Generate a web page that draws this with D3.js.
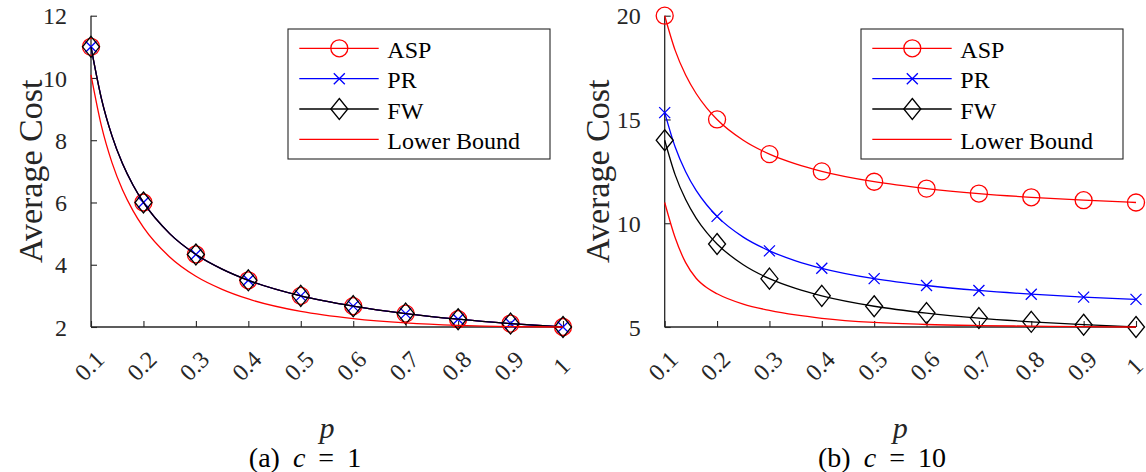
<!DOCTYPE html>
<html>
<head>
<meta charset="utf-8">
<script src="https://cdn.jsdelivr.net/npm/d3@7"></script>
<style>
  html, body { margin: 0; padding: 0; background: #fff; }
  svg text { font-family: "Liberation Serif", "Times New Roman", Times, serif; }
</style>
</head>
<body>
<svg id="chart" width="1146" height="472"></svg>
<script>
// Sampling grid along p; markers sit on the multiples of 0.1
const pGrid = [0.1, 0.12, 0.14, 0.16, 0.18, 0.2, 0.25, 0.3, 0.35, 0.4, 0.5, 0.6, 0.7, 0.8, 0.9, 1];
const pTicks = [0.1, 0.2, 0.3, 0.4, 0.5, 0.6, 0.7, 0.8, 0.9, 1];
const pTickLabels = ["0.1", "0.2", "0.3", "0.4", "0.5", "0.6", "0.7", "0.8", "0.9", "1"];

// (a) c = 1
const aspC1 = [11, 9.33, 8.14, 7.25, 6.56, 6, 5, 4.33, 3.86, 3.5, 3, 2.67, 2.43, 2.25, 2.11, 2];
const prC1  = [11, 9.33, 8.14, 7.25, 6.56, 6, 5, 4.33, 3.86, 3.5, 3, 2.67, 2.43, 2.25, 2.11, 2];
const fwC1  = [11, 9.33, 8.14, 7.25, 6.56, 6, 5, 4.33, 3.86, 3.5, 3, 2.67, 2.43, 2.25, 2.11, 2];
const lbC1  = [10.1, 8.45, 7.28, 6.41, 5.74, 5.2, 4.25, 3.63, 3.21, 2.9, 2.5, 2.27, 2.13, 2.05, 2.01, 2];
const yTicksC1 = [2, 4, 6, 8, 10, 12];

// (b) c = 10
const aspC10 = [20, 18.33, 17.14, 16.25, 15.56, 15, 14, 13.33, 12.86, 12.5, 12, 11.67, 11.43, 11.25, 11.11, 11];
const prC10  = [15.33, 13.67, 12.48, 11.58, 10.89, 10.33, 9.33, 8.67, 8.19, 7.83, 7.33, 7.0, 6.76, 6.58, 6.44, 6.33];
const fwC10  = [14, 12.33, 11.14, 10.25, 9.56, 9, 8, 7.33, 6.86, 6.5, 6, 5.67, 5.43, 5.25, 5.11, 5];
const lbC10  = [11.0, 9.3, 8.1, 7.35, 6.9, 6.6, 6.1, 5.8, 5.58, 5.42, 5.22, 5.12, 5.07, 5.04, 5.02, 5.0];
const yTicksC10 = [5, 10, 15, 20];

const seriesNames = ["ASP", "PR", "FW", "Lower Bound"];
const seriesColors = ["#ff0000", "#0000ff", "#000000", "#ff0000"];
const seriesMarkers = ["circle", "cross", "diamond", null];

const svg = d3.select("#chart");
const axisColor = "#262626";
const serif = "'Liberation Serif', 'Times New Roman', Times, serif";

function drawMarker(g, type, x, y, color) {
  if (type === "circle") {
    g.append("circle").attr("cx", x).attr("cy", y).attr("r", 8.5)
      .attr("fill", "none").attr("stroke", color).attr("stroke-width", 1.3);
  } else if (type === "cross") {
    const s = 5.5;
    g.append("path").attr("d", `M${x - s},${y - s}L${x + s},${y + s}M${x - s},${y + s}L${x + s},${y - s}`)
      .attr("stroke", color).attr("stroke-width", 1.3).attr("fill", "none");
  } else if (type === "diamond") {
    const w = 8.5, h = 10.5;
    g.append("path").attr("d", `M${x},${y - h}L${x + w},${y}L${x},${y + h}L${x - w},${y}Z`)
      .attr("stroke", color).attr("stroke-width", 1.3).attr("fill", "none");
  }
}

function panel(cfg) {
  const x = d3.scaleLinear().domain([0.1, 1]).range([cfg.x0, cfg.x1]);
  const y = d3.scaleLinear().domain(cfg.yDomain).range([327, 15.7]);
  const g = svg.append("g");

  // axes: only left and bottom, ticks pointing inward
  const yAxis = d3.axisLeft(y).tickValues(cfg.yTicks).tickSize(-6).tickPadding(24).tickFormat(d3.format("d"));
  const xAxis = d3.axisBottom(x).tickValues(pTicks).tickSize(-6).tickFormat((d, i) => pTickLabels[i]);

  const gy = g.append("g").attr("transform", `translate(${cfg.x0},0)`).call(yAxis);
  const gx = g.append("g").attr("transform", "translate(0,327)").call(xAxis);
  gy.attr("font-family", null);
  gx.attr("font-family", null);
  [gx, gy].forEach(ax => {
    ax.select(".domain").attr("stroke", axisColor).attr("stroke-width", 1.3)
      .attr("d", ax === gx ? `M${cfg.x0},0H${cfg.x1}` : `M0,327V15.7`);
    ax.selectAll(".tick line").attr("stroke", axisColor).attr("stroke-width", 1.1);
    ax.selectAll(".tick text").attr("fill", axisColor).style("font-size", "24px")
      .style("font-family", serif);
  });
  gy.selectAll(".tick text").attr("dy", "0.34em");
  gx.selectAll(".tick text")
    .attr("y", 0).attr("dy", 0)
    .attr("text-anchor", "middle").attr("dominant-baseline", "central")
    .attr("transform", "translate(-2,39) rotate(-45)");

  // series lines then markers
  const line = d3.line().x(d => x(d[0])).y(d => y(d[1])).curve(d3.curveMonotoneX);
  cfg.series.forEach((vals, si) => {
    const pts = pGrid.map((p, i) => [p, vals[i]]);
    g.append("path").datum(pts).attr("d", line)
      .attr("fill", "none").attr("stroke", seriesColors[si]).attr("stroke-width", 1.3);
    if (seriesMarkers[si]) {
      pts.filter(d => pTicks.some(t => Math.abs(t - d[0]) < 1e-9))
        .forEach(d => drawMarker(g, seriesMarkers[si], x(d[0]), y(d[1]), seriesColors[si]));
    }
  });

  // axis titles
  g.append("text").attr("transform", `translate(${cfg.yLabelX},${(327 + 15.7) / 2}) rotate(-90)`)
    .attr("text-anchor", "middle").attr("dominant-baseline", "central")
    .attr("fill", axisColor).style("font-size", "34px").text("Average Cost");
  g.append("text").attr("x", (cfg.x0 + cfg.x1) / 2).attr("y", 438)
    .attr("text-anchor", "middle").attr("fill", axisColor)
    .style("font-size", "30px").style("font-style", "italic").text("p");

  // legend
  const lx = cfg.legendX, ly = 29, lw = 262, lh = 130;
  g.append("rect").attr("x", lx).attr("y", ly).attr("width", lw).attr("height", lh)
    .attr("fill", "#fff").attr("stroke", axisColor).attr("stroke-width", 1.1);
  const rows = [48.3, 78.7, 109, 139.3];
  seriesNames.forEach((name, si) => {
    const ry = rows[si];
    g.append("line").attr("x1", lx + 11.3).attr("x2", lx + 90.7).attr("y1", ry).attr("y2", ry)
      .attr("stroke", seriesColors[si]).attr("stroke-width", 1.3);
    if (seriesMarkers[si]) drawMarker(g, seriesMarkers[si], lx + 51.3, ry, seriesColors[si]);
    g.append("text").attr("x", lx + 99.3).attr("y", ry + 9.5)
      .attr("fill", "#000").style("font-size", "24px").text(name);
  });

  // caption
  const cap = g.append("text").attr("x", cfg.capX).attr("y", 467)
    .attr("text-anchor", "middle").attr("fill", "#000")
    .style("font-size", "28px").style("word-spacing", "6px");
  cap.append("tspan").text(cfg.capPrefix + " ");
  cap.append("tspan").style("font-style", "italic").text("c");
  cap.append("tspan").text(" = " + cfg.capValue);
}

panel({
  x0: 91, x1: 563, yDomain: [2, 12], yTicks: yTicksC1,
  series: [aspC1, prC1, fwC1, lbC1],
  yLabelX: 30, legendX: 288, capX: 305, capPrefix: "(a)", capValue: "1"
});
panel({
  x0: 664.7, x1: 1136, yDomain: [5, 20], yTicks: yTicksC10,
  series: [aspC10, prC10, fwC10, lbC10],
  yLabelX: 597, legendX: 861, capX: 882, capPrefix: "(b)", capValue: "10"
});
</script>
</body>
</html>
